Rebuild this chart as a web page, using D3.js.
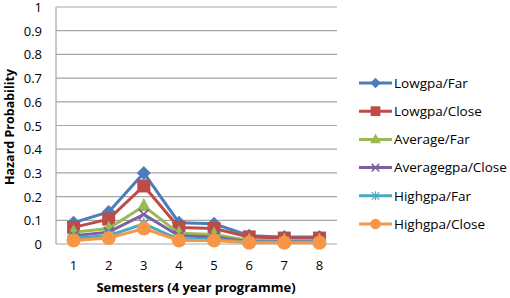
<!DOCTYPE html>
<html>
<head>
<meta charset="utf-8">
<script src="https://cdn.jsdelivr.net/npm/d3@7"></script>
<style>
  body { margin: 0; background: #fff; }
  text { font-family: "Open Sans", "Liberation Sans", sans-serif; fill: #000; }
</style>
</head>
<body>
<svg id="chart" width="510" height="298"></svg>
<script>
// data
const semesters = [1, 2, 3, 4, 5, 6, 7, 8];
const seriesNames = ["Lowgpa/Far", "Lowgpa/Close", "Average/Far", "Averagegpa/Close", "Highgpa/Far", "Highgpa/Close"];
const lowFar = [0.09, 0.135, 0.30, 0.09, 0.085, 0.035, 0.03, 0.03];
const lowClose = [0.07, 0.105, 0.245, 0.07, 0.065, 0.03, 0.025, 0.025];
const avgFar = [0.05, 0.065, 0.16, 0.045, 0.04, 0.015, 0.015, 0.015];
const avgClose = [0.035, 0.05, 0.125, 0.035, 0.03, 0.01, 0.01, 0.01];
const highFar = [0.025, 0.035, 0.085, 0.02, 0.02, 0.008, 0.008, 0.008];
const highClose = [0.015, 0.025, 0.065, 0.015, 0.015, 0.005, 0.005, 0.005];
const yTicks = [0, 0.1, 0.2, 0.3, 0.4, 0.5, 0.6, 0.7, 0.8, 0.9, 1];

const colors = ["#4a7ebb", "#be4b48", "#98b954", "#7d60a0", "#46aac5", "#f79646"];
const markers = ["diamond", "square", "triangle", "cross", "star", "circle"];
const allValues = [lowFar, lowClose, avgFar, avgClose, highFar, highClose];

const svg = d3.select("#chart");
const plotLeft = 56, plotRight = 337, plotTop = 7, plotBottom = 244;

let x = d3.scaleBand().domain(semesters).range([plotLeft, plotRight]);
let y = d3.scaleLinear().domain([0, 1]).range([plotBottom, plotTop]);

// gridlines
svg.append("g")
    .selectAll("line")
    .data(yTicks.slice(1))
    .enter()
    .append("line")
    .attr("x1", plotLeft)
    .attr("x2", plotRight)
    .attr("y1", d => y(d))
    .attr("y2", d => y(d))
    .attr("stroke", "#a6a6a6")
    .attr("stroke-width", 1.2);

// axis lines
svg.append("line")
    .attr("x1", plotLeft).attr("x2", plotLeft)
    .attr("y1", plotTop).attr("y2", plotBottom)
    .attr("stroke", "#a6a6a6").attr("stroke-width", 1.2);
svg.append("line")
    .attr("x1", plotLeft).attr("x2", plotRight)
    .attr("y1", plotBottom).attr("y2", plotBottom)
    .attr("stroke", "#a6a6a6").attr("stroke-width", 1.2);

// tick labels
svg.append("g")
    .selectAll("text")
    .data(yTicks)
    .enter()
    .append("text")
    .attr("x", plotLeft - 14)
    .attr("y", d => y(d) + 0.5)
    .attr("dy", "0.35em")
    .attr("text-anchor", "end")
    .attr("font-size", "13px")
    .text(d => d);

svg.append("g")
    .selectAll("text")
    .data(semesters)
    .enter()
    .append("text")
    .attr("x", d => x(d) + x.bandwidth() / 2)
    .attr("y", 265.5)
    .attr("dy", "0.35em")
    .attr("text-anchor", "middle")
    .attr("font-size", "13px")
    .text(d => d);

// axis titles
svg.append("text")
    .attr("x", 196)
    .attr("y", 287)
    .attr("dy", "0.35em")
    .attr("text-anchor", "middle")
    .attr("font-size", "13px")
    .attr("font-weight", "bold")
    .text("Semesters (4 year programme)");

svg.append("text")
    .attr("transform", "translate(10,127) rotate(-90)")
    .attr("dy", "0.35em")
    .attr("text-anchor", "middle")
    .attr("font-size", "12.5px")
    .attr("font-weight", "bold")
    .text("Hazard Probability");

function drawMarker(g, type, color) {
    if (type === "diamond") {
        g.append("path").attr("d", "M0,-7L7,0L0,7L-7,0Z").attr("fill", color);
    } else if (type === "square") {
        g.append("rect").attr("x", -6.5).attr("y", -6.5).attr("width", 13).attr("height", 13).attr("fill", color);
    } else if (type === "triangle") {
        g.append("path").attr("d", "M0,-8L7,5L-7,5Z").attr("fill", color);
    } else if (type === "cross") {
        g.append("path").attr("d", "M-5,-5L5,5M-5,5L5,-5").attr("stroke", color).attr("stroke-width", 2);
    } else if (type === "star") {
        g.append("path").attr("d", "M-5,-5L5,5M-5,5L5,-5M0,-6L0,6").attr("stroke", color).attr("stroke-width", 1.5);
    } else {
        g.append("circle").attr("r", 7).attr("fill", color);
    }
}

const line = d3.line()
    .x((d, i) => x(semesters[i]) + x.bandwidth() / 2)
    .y(d => y(d));

allValues.forEach((vals, s) => {
    const g = svg.append("g");
    g.append("path")
        .attr("d", line(vals))
        .attr("fill", "none")
        .attr("stroke", colors[s])
        .attr("stroke-width", 3);
    vals.forEach((v, i) => {
        const m = g.append("g")
            .attr("transform", "translate(" + (x(semesters[i]) + x.bandwidth() / 2) + "," + y(v) + ")");
        drawMarker(m, markers[s], colors[s]);
    });
});

// legend
const legend = svg.append("g");
seriesNames.forEach((name, s) => {
    const ly = 83 + s * 28.2;
    legend.append("line")
        .attr("x1", 359).attr("x2", 392)
        .attr("y1", ly).attr("y2", ly)
        .attr("stroke", colors[s])
        .attr("stroke-width", 3);
    const m = legend.append("g").attr("transform", "translate(375.5," + ly + ")scale(0.75)");
    drawMarker(m, markers[s], colors[s]);
    legend.append("text")
        .attr("x", 394)
        .attr("y", ly)
        .attr("dy", "0.35em")
        .attr("font-size", "13.5px")
        .text(name);
});
</script>
</body>
</html>
